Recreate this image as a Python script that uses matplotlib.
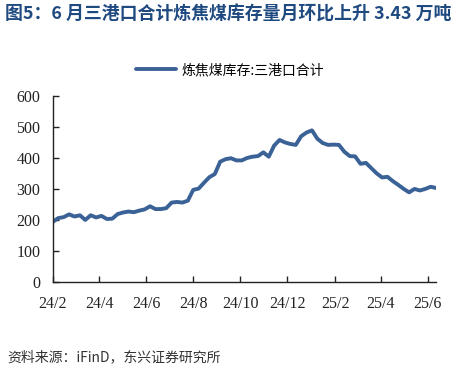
import pandas as pd
import matplotlib.pyplot as plt
import matplotlib.dates as mdates

# weekly coking coal stock, three ports combined (万吨)
dates = pd.date_range('2024-02-01', periods=72, freq='7D')
stock = [194, 206, 209, 218, 211, 215, 200, 215, 208, 213,
         203, 204, 219, 224, 227, 225, 230, 234, 244, 235,
         235, 238, 256, 258, 256, 262, 297, 301, 320, 338,
         348, 388, 396, 399, 392, 392, 400, 404, 406, 418,
         404, 440, 458, 450, 445, 442, 470, 482, 489, 462,
         448, 442, 443, 442, 420, 406, 405, 381, 384, 367,
         350, 337, 339, 325, 313, 300, 289, 300, 295, 300,
         307, 303]
tick_dates = pd.to_datetime(['2024-02-01', '2024-04-01', '2024-06-01', '2024-08-01',
                             '2024-10-01', '2024-12-01', '2025-02-01', '2025-04-01',
                             '2025-06-01'])
tick_labels = ['24/2', '24/4', '24/6', '24/8', '24/10', '24/12', '25/2', '25/4', '25/6']
yticks = [0, 100, 200, 300, 400, 500, 600]

title = '图5：6 月三港口合计炼焦煤库存量月环比上升 3.43 万吨'
series_name = '炼焦煤库存:三港口合计'
source = '资料来源：iFinD，东兴证券研究所'

cjk = ['Noto Sans CJK SC', 'DejaVu Sans']

fig = plt.figure(figsize=(4.6, 3.69), dpi=100)
ax = fig.add_axes([0.115, 0.236, 0.833, 0.504])

ax.plot(dates, stock, color='#3A6296', lw=2.8, solid_capstyle='round',
        solid_joinstyle='round', label=series_name)

ax.set_xlim(dates[0], dates[-1])
ax.set_ylim(0, 600)
ax.set_yticks(yticks)
ax.set_xticks(tick_dates)
ax.set_xticklabels(tick_labels)

for s in ['top', 'right']:
    ax.spines[s].set_visible(False)
for s in ['left', 'bottom']:
    ax.spines[s].set_color('#222222')
    ax.spines[s].set_linewidth(1.0)

ax.tick_params(axis='both', direction='in', length=4, width=1, color='#222222',
               labelsize=11.5, labelcolor='#222222')
ax.tick_params(axis='x', pad=10)
ax.tick_params(axis='y', pad=9)
for lab in ax.get_xticklabels() + ax.get_yticklabels():
    lab.set_family('Liberation Serif')

fig.text(0.011, 0.96, title, family=cjk, fontsize=12.9, fontweight='bold',
         color='#1F4A80', ha='left', va='center')

fig.legend(loc='center', bbox_to_anchor=(230 / 460, 1 - 70 / 369), frameon=False,
           prop={'family': cjk, 'size': 10}, handlelength=2.9, handletextpad=0.35)

fig.text(0.015, 1 - 357 / 369, source, family=cjk, fontsize=10, style='italic',
         color='#333333', ha='left', va='center')

fig.savefig('out.png', dpi=100)
